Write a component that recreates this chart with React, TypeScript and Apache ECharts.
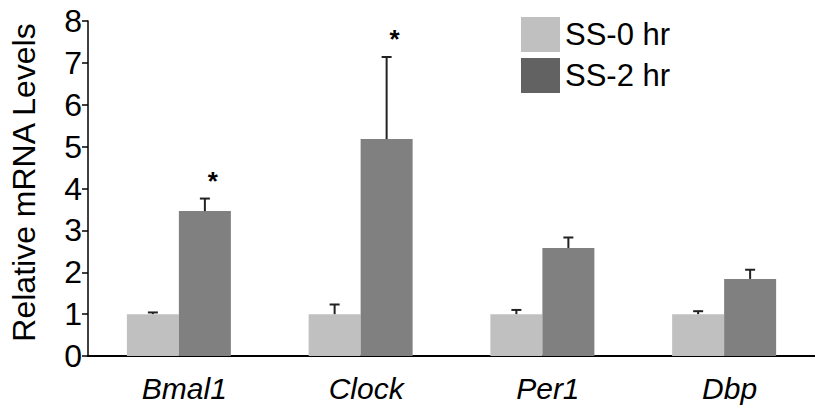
import React, { useEffect, useRef } from "react";
import * as echarts from "echarts";

const categories = ["Bmal1", "Clock", "Per1", "Dbp"];
const seriesNames = ["SS-0 hr", "SS-2 hr"];
const ss0Values = [1.0, 1.0, 1.0, 1.0];
const ss0Errors = [0.04, 0.23, 0.1, 0.07];
const ss2Values = [3.46, 5.18, 2.58, 1.84];
const ss2Errors = [0.3, 1.96, 0.25, 0.22];
const ss2Significant = [true, true, false, false];
const yTicks = [0, 1, 2, 3, 4, 5, 6, 7, 8];

const FONT = "'Liberation Sans', Arial, sans-serif";
const BAR_W = 52;

export default function App() {
  const ref = useRef<HTMLDivElement>(null);
  useEffect(() => {
    if (!ref.current) return;
    const chart = echarts.init(ref.current, null, { renderer: "svg" });

    const errData0 = categories.map((_, i) => [i, ss0Values[i], ss0Errors[i], 0]);
    const errData2 = categories.map((_, i) => [i, ss2Values[i], ss2Errors[i], ss2Significant[i] ? 1 : 0]);

    const makeErr = (offset: number) => (params: any, api: any) => {
      const x = api.value(0);
      const v = api.value(1);
      const e = api.value(2);
      const sig = api.value(3);
      const base = api.coord([x, v]);
      const top = api.coord([x, v + e]);
      const px = base[0] + offset;
      const children: any[] = [
        {
          type: "line",
          shape: { x1: px, y1: base[1], x2: px, y2: top[1] },
          style: { stroke: "#222", lineWidth: 2 },
        },
        {
          type: "line",
          shape: { x1: px - 5, y1: top[1], x2: px + 5, y2: top[1] },
          style: { stroke: "#222", lineWidth: 2 },
        },
      ];
      if (sig) {
        children.push({
          type: "text",
          style: {
            text: "*",
            x: px + 8,
            y: top[1] - 18,
            align: "center",
            verticalAlign: "middle",
            font: `bold 26px ${FONT}`,
            fill: "#000",
          },
        });
      }
      return { type: "group", children };
    };

    chart.setOption({
      animation: false,
      textStyle: { fontFamily: FONT },
      grid: { left: 85, top: 21, width: 736, height: 335, containLabel: false },
      legend: {
        orient: "vertical",
        left: 521,
        top: 17,
        padding: 0,
        itemWidth: 39,
        itemHeight: 35,
        itemGap: 6,
        icon: "rect",
        textStyle: { fontSize: 31, color: "#000", fontFamily: FONT },
        data: [
          { name: seriesNames[0], itemStyle: { color: "#c0c0c0" } },
          { name: seriesNames[1], itemStyle: { color: "#626262" } },
        ],
      },
      xAxis: {
        type: "category",
        data: categories,
        axisLine: { show: true, lineStyle: { color: "#000", width: 2 } },
        axisTick: { show: false },
        axisLabel: {
          fontSize: 30,
          fontStyle: "italic",
          color: "#000",
          fontFamily: FONT,
          margin: 17,
          interval: 0,
          padding: [0, 0, 0, 11],
        },
      },
      yAxis: {
        type: "value",
        min: yTicks[0],
        max: yTicks[yTicks.length - 1],
        interval: 1,
        name: "Relative mRNA Levels",
        nameLocation: "middle",
        nameRotate: 90,
        nameGap: 48,
        nameTextStyle: { fontSize: 32, color: "#000", fontFamily: FONT, padding: [0, 0, 0, 12] },
        axisLine: { show: true, lineStyle: { color: "#000", width: 1.5 } },
        axisTick: { show: true, length: 6, lineStyle: { color: "#000", width: 1.5 } },
        axisLabel: { fontSize: 32, color: "#000", fontFamily: FONT, margin: 6 },
        splitLine: { show: false },
      },
      series: [
        {
          name: seriesNames[0],
          type: "bar",
          data: ss0Values,
          barWidth: BAR_W,
          barGap: "0%",
          itemStyle: { color: "#c0c0c0" },
        },
        {
          name: seriesNames[1],
          type: "bar",
          data: ss2Values,
          barWidth: BAR_W,
          barGap: "0%",
          itemStyle: { color: "#808080" },
        },
        {
          type: "custom",
          renderItem: makeErr(-BAR_W / 2),
          data: errData0,
          encode: { x: 0, y: 1 },
          z: 10,
          silent: true,
        },
        {
          type: "custom",
          renderItem: makeErr(BAR_W / 2),
          data: errData2,
          encode: { x: 0, y: 1 },
          z: 10,
          silent: true,
        },
      ],
    });
    return () => chart.dispose();
  }, []);
  return (
    <div
      ref={ref}
      style={{ position: "absolute", left: 0, top: 0, width: 815, height: 411, background: "#fff" }}
    />
  );
}
